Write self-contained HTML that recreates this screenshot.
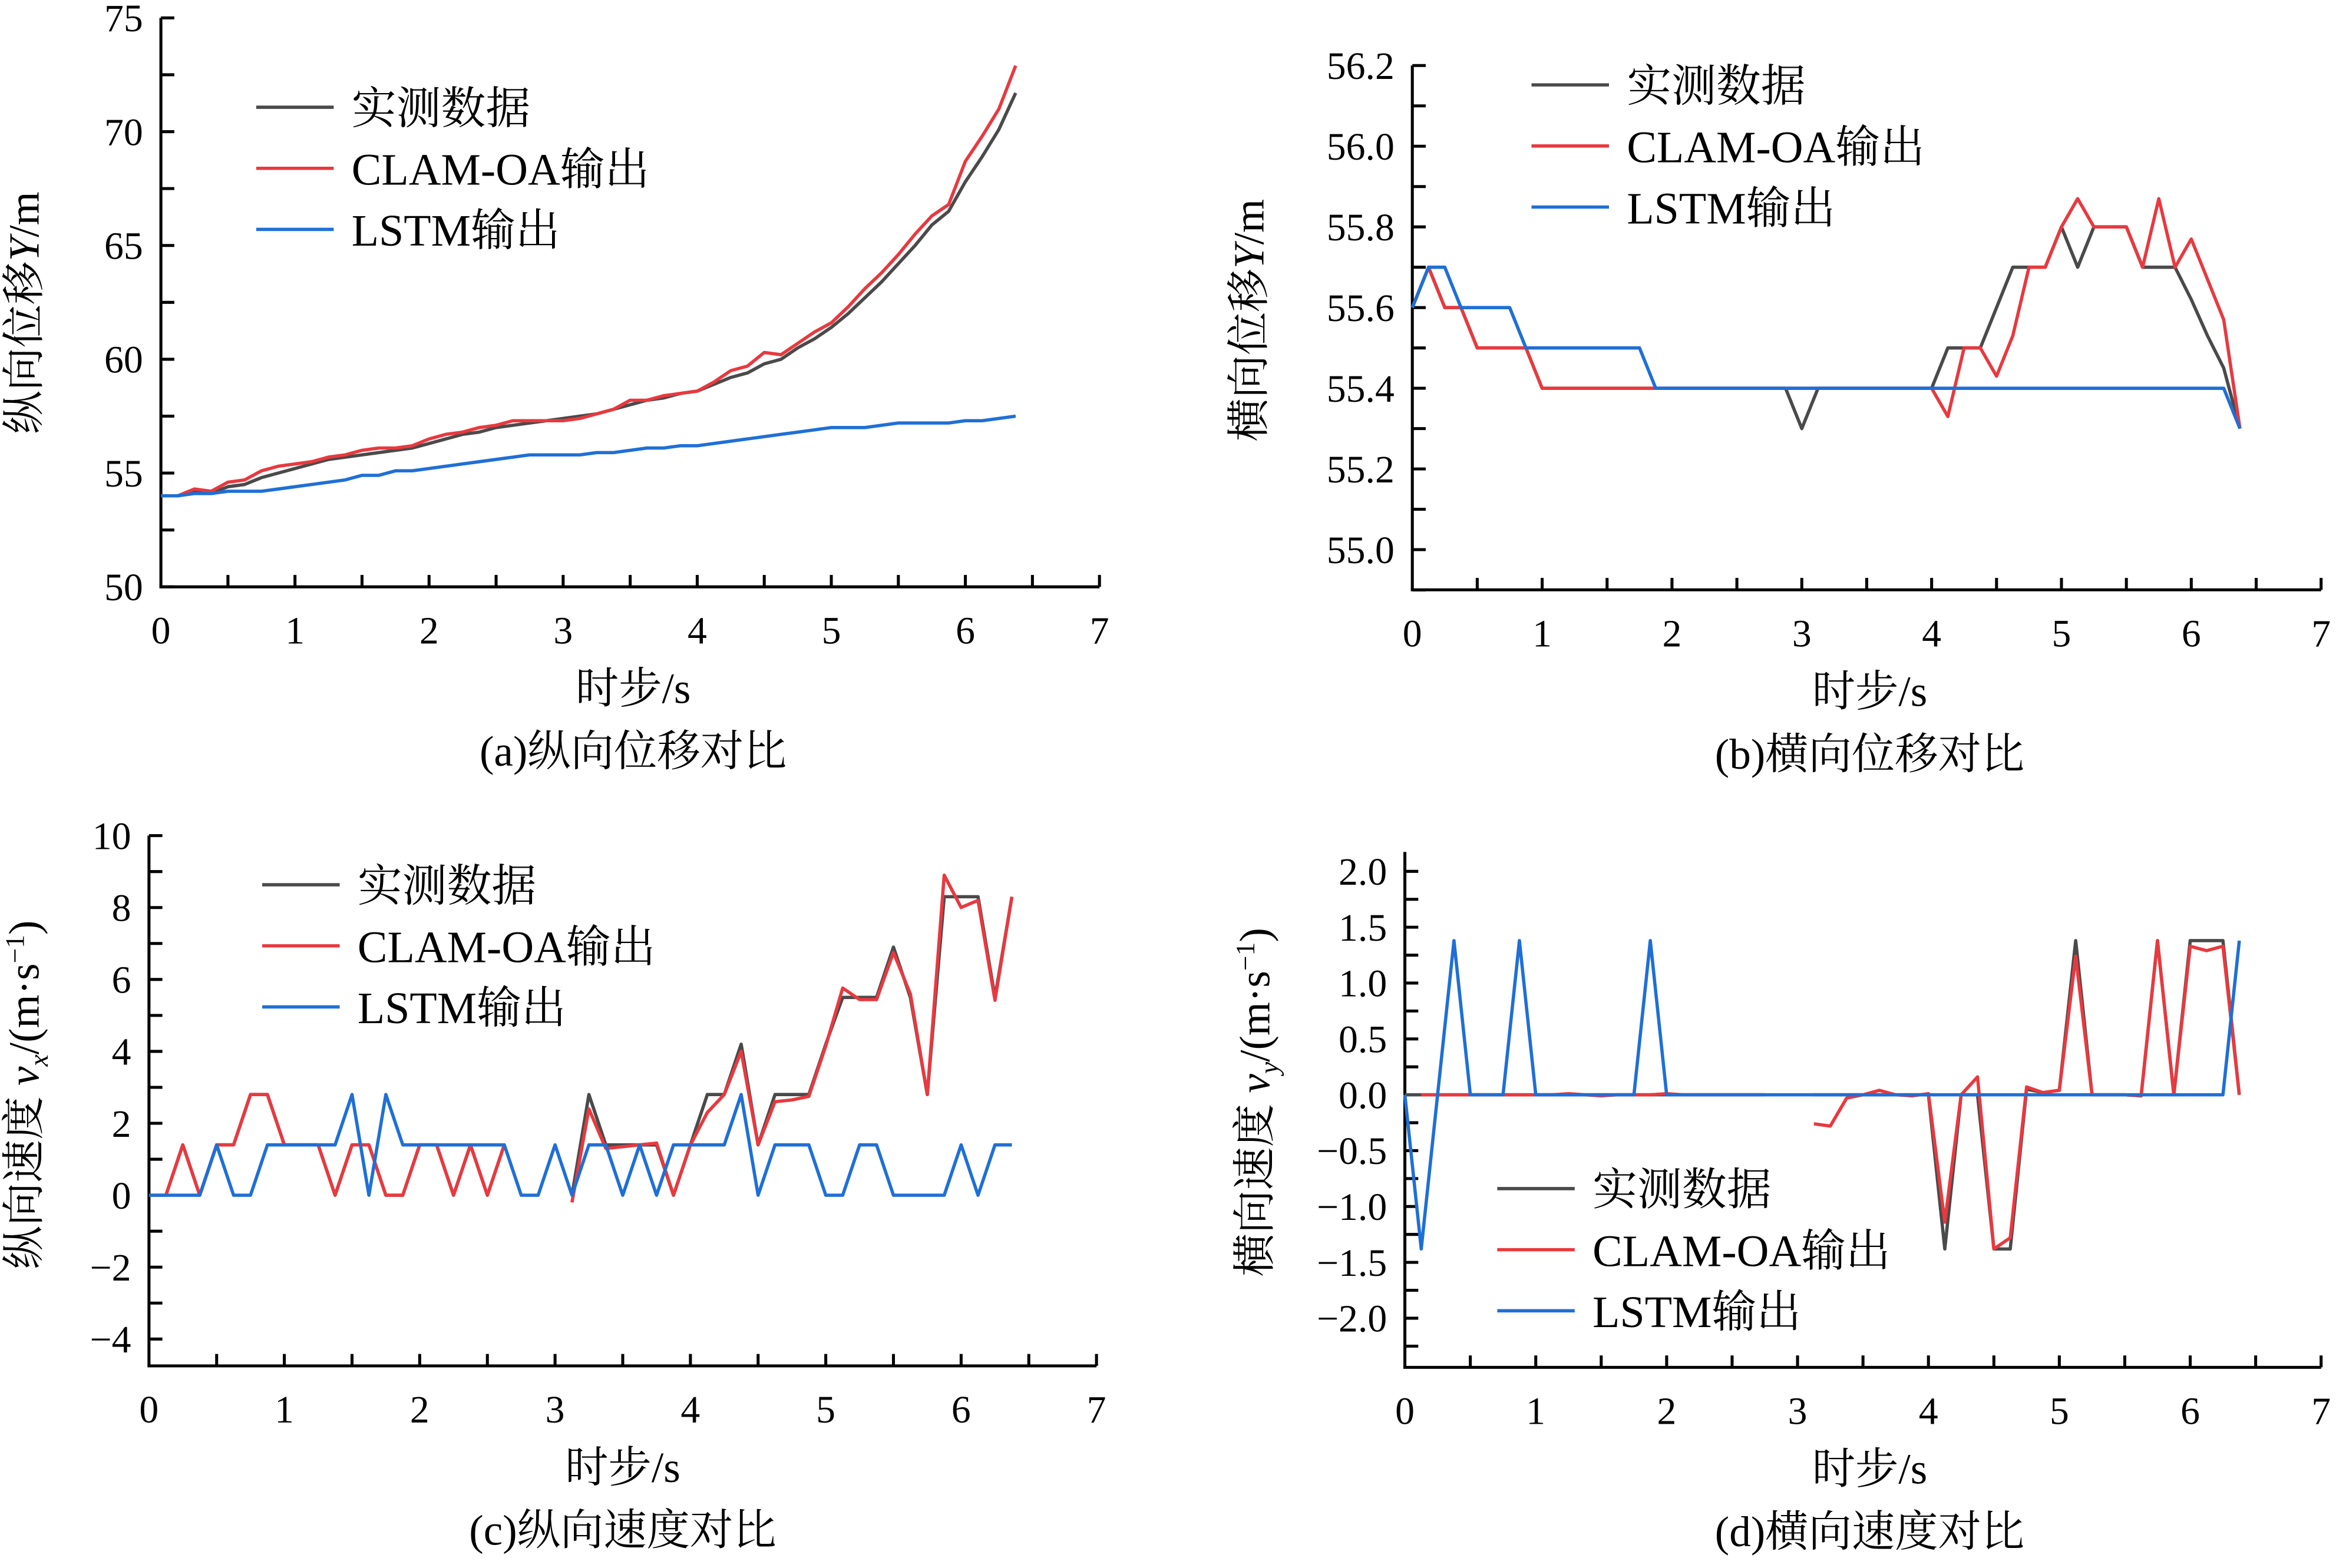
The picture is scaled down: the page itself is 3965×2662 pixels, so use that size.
<!DOCTYPE html>
<html><head><meta charset="utf-8"><style>
html,body{margin:0;padding:0;background:#fff;}
svg{display:block;}
text{font-family:"Liberation Serif","Noto Serif CJK SC",serif;fill:#000;}
</style></head><body>
<svg id="fig" xmlns="http://www.w3.org/2000/svg" width="3965" height="2662" viewBox="0 0 1568 1052.7" preserveAspectRatio="none"></svg>
<script>
// shared time base: 52 samples, dt = 0.125 s
const dt = 0.125;
const seriesNames = ["实测数据", "CLAM-OA输出", "LSTM输出"];
// (a) longitudinal displacement Y/m
const aMeasured = [54.0,54.0,54.2,54.1,54.4,54.5,54.8,55.0,55.2,55.4,55.6,55.7,55.8,55.9,56.0,56.1,56.3,56.5,56.7,56.8,57.0,57.1,57.2,57.3,57.4,57.5,57.6,57.8,58.0,58.2,58.3,58.5,58.6,58.9,59.2,59.4,59.8,60.0,60.5,60.9,61.4,62.0,62.7,63.4,64.2,65.0,65.9,66.5,67.8,68.9,70.1,71.7];
const aClam = [54.0,54.0,54.3,54.2,54.6,54.7,55.1,55.3,55.4,55.5,55.7,55.8,56.0,56.1,56.1,56.2,56.5,56.7,56.8,57.0,57.1,57.3,57.3,57.3,57.3,57.4,57.6,57.8,58.2,58.2,58.4,58.5,58.6,59.0,59.5,59.7,60.3,60.2,60.7,61.2,61.6,62.3,63.1,63.8,64.6,65.5,66.3,66.8,68.7,69.8,71.0,72.9];
const aLstm = [54.0,54.0,54.1,54.1,54.2,54.2,54.2,54.3,54.4,54.5,54.6,54.7,54.9,54.9,55.1,55.1,55.2,55.3,55.4,55.5,55.6,55.7,55.8,55.8,55.8,55.8,55.9,55.9,56.0,56.1,56.1,56.2,56.2,56.3,56.4,56.5,56.6,56.7,56.8,56.9,57.0,57.0,57.0,57.1,57.2,57.2,57.2,57.2,57.3,57.3,57.4,57.5];
const aTicks = [50,55,60,65,70,75];
// (b) lateral displacement Y/m
const bMeasured = [55.6,55.7,55.6,55.6,55.5,55.5,55.5,55.5,55.4,55.4,55.4,55.4,55.4,55.4,55.4,55.4,55.4,55.4,55.4,55.4,55.4,55.4,55.4,55.4,55.3,55.4,55.4,55.4,55.4,55.4,55.4,55.4,55.4,55.5,55.5,55.5,55.6,55.7,55.7,55.7,55.8,55.7,55.8,55.8,55.8,55.7,55.7,55.7,55.62,55.53,55.45,55.3];
const bClam = [55.6,55.7,55.6,55.6,55.5,55.5,55.5,55.5,55.4,55.4,55.4,55.4,55.4,55.4,55.4,55.4,55.4,55.4,55.4,55.4,55.4,55.4,55.4,55.4,55.4,55.4,55.4,55.4,55.4,55.4,55.4,55.4,55.4,55.33,55.5,55.5,55.43,55.53,55.7,55.7,55.8,55.87,55.8,55.8,55.8,55.7,55.87,55.7,55.77,55.67,55.57,55.3];
const bLstm = [55.6,55.7,55.7,55.6,55.6,55.6,55.6,55.5,55.5,55.5,55.5,55.5,55.5,55.5,55.5,55.4,55.4,55.4,55.4,55.4,55.4,55.4,55.4,55.4,55.4,55.4,55.4,55.4,55.4,55.4,55.4,55.4,55.4,55.4,55.4,55.4,55.4,55.4,55.4,55.4,55.4,55.4,55.4,55.4,55.4,55.4,55.4,55.4,55.4,55.4,55.4,55.3];
const bTicks = ["55.0","55.2","55.4","55.6","55.8","56.0","56.2"];
// (c) longitudinal velocity vx
const cMeasured = [0,0,1.4,0,1.4,1.4,2.8,2.8,1.4,1.4,1.4,0,1.4,1.4,0,0,1.4,1.4,0,1.4,0,1.4,null,null,null,0,2.8,1.4,1.4,1.4,1.4,0,1.4,2.8,2.8,4.2,1.4,2.8,2.8,2.8,4.2,5.5,5.5,5.5,6.9,5.5,2.8,8.3,8.3,8.3,5.5,8.3];
const cClam = [null,0,1.4,0,1.4,1.4,2.8,2.8,1.4,1.4,1.4,0,1.4,1.4,0,0,1.4,1.4,0,1.4,0,1.4,null,null,null,-0.2,2.4,1.3,1.35,1.4,1.45,0,1.4,2.3,2.8,4.0,1.4,2.6,2.65,2.75,4.15,5.76,5.44,5.44,6.75,5.6,2.8,8.9,8.0,8.2,5.42,8.3];
const cLstm = [0,0,0,0,1.4,0,0,1.4,1.4,1.4,1.4,1.4,2.8,0,2.8,1.4,1.4,1.4,1.4,1.4,1.4,1.4,0,0,1.4,0,1.4,1.4,0,1.4,0,1.4,1.4,1.4,1.4,2.8,0,1.4,1.4,1.4,0,0,1.4,1.4,0,0,0,0,1.4,0,1.4,1.4];
const cTicks = [-4,-2,0,2,4,6,8,10];
// (d) lateral velocity vy
const dMeasured = [0,0,0,0,0,0,0,0,0,0,0,0,0,0,0,0,0,0,0,0,0,0,0,null,null,0,0,0,0,0,0,0,0,-1.38,0,0,-1.38,-1.38,0.05,0.02,0.04,1.38,0,0,0,-0.01,1.38,0,1.38,1.38,1.38,0];
const dClam = [null,0,0,0,0,0,0,0,0,0,0.01,0,-0.01,0,0,0,0.01,0,0,0,0,0,0,null,null,-0.26,-0.28,-0.03,0,0.04,0,-0.01,0.01,-1.14,0,0.16,-1.38,-1.28,0.07,0.02,0.04,1.24,0,0,0,-0.01,1.38,0,1.33,1.29,1.33,0];
const dLstm = [0,-1.38,0,1.38,0,0,0,1.38,0,0,0,0,0,0,0,1.38,0,0,0,0,0,0,0,0,0,0,0,0,0,0,0,0,0,0,0,0,0,0,0,0,0,0,0,0,0,0,0,0,0,0,0,1.38];
const dTicks = ["-2.0","-1.5","-1.0","-0.5","0.0","0.5","1.0","1.5","2.0"];
const xTicks = [0,1,2,3,4,5,6,7];

const NS = "http://www.w3.org/2000/svg";
const svg = document.getElementById("fig");
const colors = ["#4a4a4a", "#e8393f", "#1f6fd6"];

function mk(tag, attrs, parent, txt) {
  const e = document.createElementNS(NS, tag);
  for (const k in attrs) e.setAttribute(k, attrs[k]);
  if (txt !== undefined) e.textContent = txt;
  (parent || svg).appendChild(e);
  return e;
}

function panel(cfg) {
  const g = mk("g", {});
  
  
  const X = t => cfg.x0 + (t / 7) * (cfg.x7 - cfg.x0);
  const Y = v => cfg.yA + (v - cfg.vA) / (cfg.vB - cfg.vA) * (cfg.yB - cfg.yA);
  const yax = mk("line", {x1: cfg.x0, y1: cfg.top, x2: cfg.x0, y2: cfg.bottom, stroke: "#000", "stroke-width": 2}, g);
  
  
  const xax = mk("line", {x1: cfg.x0 - 1, y1: cfg.bottom, x2: cfg.x7, y2: cfg.bottom, stroke: "#000", "stroke-width": 2}, g);
  
  
  for (let v = cfg.tickMin; v <= cfg.tickMax + 1e-9; v += cfg.minor) {
    const y = Y(v);
    if (y < cfg.top - 1 || y > cfg.bottom + 1) continue;
    const tk = mk("line", {x1: cfg.x0, y1: y, x2: cfg.x0 + 9, y2: y, stroke: "#000", "stroke-width": 2}, g);
    
    
  }
  cfg.yTicks.forEach(lbl => {
    const v = parseFloat(lbl);
    const t = mk("text", {x: cfg.x0 - 12, y: Y(v) + 9, "text-anchor": "end", "font-size": 26}, g, String(lbl).replace("-", "−"));
    
    
  });
  for (let t = 0.5; t <= 7; t += 0.5) {
    const xt = mk("line", {x1: X(t), y1: cfg.bottom, x2: X(t), y2: cfg.bottom - 8, stroke: "#000", "stroke-width": 2}, g);
    
    
  }
  xTicks.forEach(v => {
    const t = mk("text", {x: X(v), y: cfg.bottom + 38, "text-anchor": "middle", "font-size": 26}, g, String(v));
    
    
  });
  cfg.series.forEach((arr, si) => {
    let d = "", pen = false;
    arr.forEach((v, i) => {
      if (v === null) { pen = false; return; }
      d += (pen ? "L" : "M") + X(i * dt).toFixed(2) + "," + Y(v).toFixed(2);
      pen = true;
    });
    const p = mk("path", {d: d, fill: "none", stroke: colors[si], "stroke-width": 2.2, "stroke-linejoin": "round"}, g);
    
    
  });
  seriesNames.forEach((n, si) => {
    const y = cfg.legY + si * 41;
    const ln = mk("line", {x1: cfg.legX, y1: y, x2: cfg.legX + 52, y2: y, stroke: colors[si], "stroke-width": 2.2}, g);
    
    
    const tx = mk("text", {x: cfg.legX + 64, y: y + 11, "font-size": 30}, g, n);
    
    
  });
  const yl = mk("text", {transform: "translate(" + cfg.ylX + "," + cfg.ylY + ") rotate(-90)", "text-anchor": "middle", "font-size": 29}, g);
  
  
  yl.innerHTML = cfg.ylabel;
  const xl = mk("text", {x: cfg.capX, y: cfg.bottom + 78, "text-anchor": "middle", "font-size": 29}, g, "时步/s");
  
  
  const cap = mk("text", {x: cfg.capX, y: cfg.bottom + 120, "text-anchor": "middle", "font-size": 29}, g, cfg.caption);
  
  
}

panel({name: "panel-a-longitudinal-displacement", x0: 108, x7: 738, top: 12, bottom: 394, vA: 50, yA: 394, vB: 75, yB: 12,
  tickMin: 50, tickMax: 75, minor: 2.5, yTicks: aTicks, series: [aMeasured, aClam, aLstm],
  legX: 172, legY: 72, ylX: 26, ylY: 210, capX: 425,
  ylabel: '纵向位移<tspan font-style="italic">Y</tspan>/m', caption: "(a)纵向位移对比"});
panel({name: "panel-b-lateral-displacement", x0: 948, x7: 1558, top: 44, bottom: 396, vA: 55.0, yA: 369, vB: 56.2, yB: 44,
  tickMin: 54.9, tickMax: 56.2, minor: 0.1, yTicks: bTicks, series: [bMeasured, bClam, bLstm],
  legX: 1028, legY: 57, ylX: 848, ylY: 215, capX: 1255,
  ylabel: '横向位移<tspan font-style="italic">Y</tspan>/m', caption: "(b)横向位移对比"});
panel({name: "panel-c-longitudinal-velocity", x0: 100, x7: 736, top: 561, bottom: 917, vA: 10, yA: 561, vB: -4, yB: 899,
  tickMin: -4, tickMax: 10, minor: 1, yTicks: cTicks, series: [cMeasured, cClam, cLstm],
  legX: 176, legY: 594, ylX: 26, ylY: 735, capX: 418,
  ylabel: '纵向速度 <tspan font-style="italic">v</tspan><tspan font-style="italic" font-size="18" dy="6">x</tspan><tspan dy="-6">/(m·s</tspan><tspan font-size="18" dy="-10">−1</tspan><tspan dy="10">)</tspan>', caption: "(c)纵向速度对比"});
panel({name: "panel-d-lateral-velocity", x0: 943, x7: 1558, top: 572, bottom: 918, vA: 2.0, yA: 585, vB: -2.0, yB: 885,
  tickMin: -2.25, tickMax: 2.0, minor: 0.25, yTicks: dTicks, series: [dMeasured, dClam, dLstm],
  legX: 1005, legY: 798, ylX: 852, ylY: 740, capX: 1255,
  ylabel: '横向速度 <tspan font-style="italic">v</tspan><tspan font-style="italic" font-size="18" dy="6">y</tspan><tspan dy="-6">/(m·s</tspan><tspan font-size="18" dy="-10">−1</tspan><tspan dy="10">)</tspan>', caption: "(d)横向速度对比"});
</script>
</body></html>
